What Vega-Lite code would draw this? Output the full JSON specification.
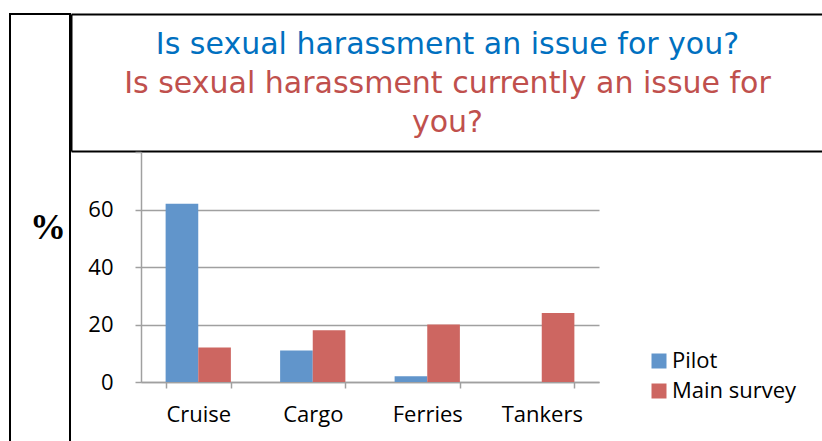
{
  "$schema": "https://vega.github.io/schema/vega-lite/v6.json",
  "padding": {"left": 9, "top": 13, "right": 0, "bottom": 0},
  "background": "white",
  "spacing": 0,
  "config": {"view": {"stroke": null}, "font": "Open Sans", "concat": {"spacing": 0}},
  "hconcat": [
    {
      "width": 60,
      "height": 440,
      "view": {"stroke": "black", "strokeWidth": 2},
      "data": {"values": [{"label": "%"}]},
      "mark": {"type": "text", "font": "Liberation Serif", "fontWeight": "bold", "fontSize": 36, "dx": 8, "dy": -6, "baseline": "middle"},
      "encoding": {"text": {"field": "label"}}
    },
    {
      "spacing": 0,
      "resolve": {"legend": {"color": "independent"}},
      "vconcat": [
        {
          "width": 683,
          "height": 137,
          "data": {"values": [
            {"line": 1, "question": "Pilot", "text": "Is sexual harassment an issue for you?"},
            {"line": 2, "question": "Main survey", "text": "Is sexual harassment currently an issue for"},
            {"line": 3, "question": "Main survey", "text": "you?"}
          ]},
          "encoding": {
            "y": {"field": "line", "type": "ordinal", "scale": {"type": "point", "padding": 0.756},
              "axis": {"labels": false, "ticks": false, "title": null, "grid": false, "domainColor": "black", "domainWidth": 2, "offset": 70}},
            "text": {"field": "text"}
          },
          "layer": [
            {
              "transform": [{"filter": "datum.line == 1"}],
              "mark": {"type": "text", "fontSize": 30, "baseline": "alphabetic", "dy": 10.5, "font": "DejaVu Sans", "color": "#0070C0"},
              "encoding": {
                "x": {"datum": 0.5, "type": "quantitative", "scale": {"domain": [0, 1], "range": [-70, 683]},
                  "axis": {"orient": "bottom", "labels": false, "ticks": false, "title": null, "grid": false, "domainColor": "black", "domainWidth": 2}}
              }
            },
            {
              "transform": [{"filter": "datum.line > 1"}],
              "mark": {"type": "text", "fontSize": 30, "baseline": "alphabetic", "dy": 10.5, "font": "DejaVu Sans", "color": "#C0504D"},
              "encoding": {
                "x": {"datum": 0.5, "type": "quantitative", "scale": {"domain": [0, 1], "range": [-70, 683]},
                  "axis": {"orient": "top", "labels": false, "ticks": false, "title": null, "grid": false, "domainColor": "black", "domainWidth": 2}}
              }
            }
          ],
          "resolve": {"axis": {"x": "independent"}}
        },
        {
          "width": 458,
          "height": 230,
          "data": {"values": [
            {"vessel": "Cruise", "survey": "Pilot", "percent": 62},
            {"vessel": "Cruise", "survey": "Main survey", "percent": 12},
            {"vessel": "Cargo", "survey": "Pilot", "percent": 11},
            {"vessel": "Cargo", "survey": "Main survey", "percent": 18},
            {"vessel": "Ferries", "survey": "Pilot", "percent": 2},
            {"vessel": "Ferries", "survey": "Main survey", "percent": 20},
            {"vessel": "Tankers", "survey": "Pilot", "percent": 0},
            {"vessel": "Tankers", "survey": "Main survey", "percent": 24}
          ]},
          "mark": {"type": "bar"},
          "encoding": {
            "x": {
              "field": "vessel", "type": "nominal", "sort": ["Cruise", "Cargo", "Ferries", "Tankers"], "title": null,
              "scale": {"paddingInner": 0.43, "paddingOuter": 0.215},
              "axis": {"labelAngle": 0, "labelFontSize": 22, "labelColor": "black", "labelPadding": 16, "tickBand": "extent", "tickSize": 6, "tickColor": "#A0A0A0", "tickWidth": 1.5, "domainColor": "#A0A0A0", "domainWidth": 1.5, "grid": false}
            },
            "xOffset": {"field": "survey", "sort": ["Pilot", "Main survey"], "scale": {"paddingInner": 0, "paddingOuter": 0}},
            "y": {
              "field": "percent", "type": "quantitative", "title": null,
              "scale": {"domain": [0, 80], "nice": false},
              "axis": {"values": [0, 20, 40, 60, 80], "labelExpr": "datum.value == 80 ? '' : datum.label", "labelFontSize": 22, "labelColor": "black", "labelPadding": 22, "tickSize": 6, "tickColor": "#A0A0A0", "tickWidth": 1.5, "domainColor": "#A0A0A0", "domainWidth": 1.5, "gridColor": "#A0A0A0", "gridWidth": 1.5, "gridOpacity": {"condition": {"test": "datum.value == 80", "value": 0}, "value": 1}, "minExtent": 70, "maxExtent": 70}
            },
            "color": {
              "field": "survey", "type": "nominal", "sort": ["Pilot", "Main survey"],
              "scale": {"domain": ["Pilot", "Main survey"], "range": ["#6195CB", "#CD6661"]},
              "legend": {"title": null, "orient": "none", "legendX": 507, "legendY": 198, "symbolType": "square", "symbolSize": 225, "symbolStrokeWidth": 0, "labelFontSize": 22, "labelColor": "black", "labelOffset": 2, "rowPadding": 8}
            }
          }
        }
      ]
    }
  ]
}
